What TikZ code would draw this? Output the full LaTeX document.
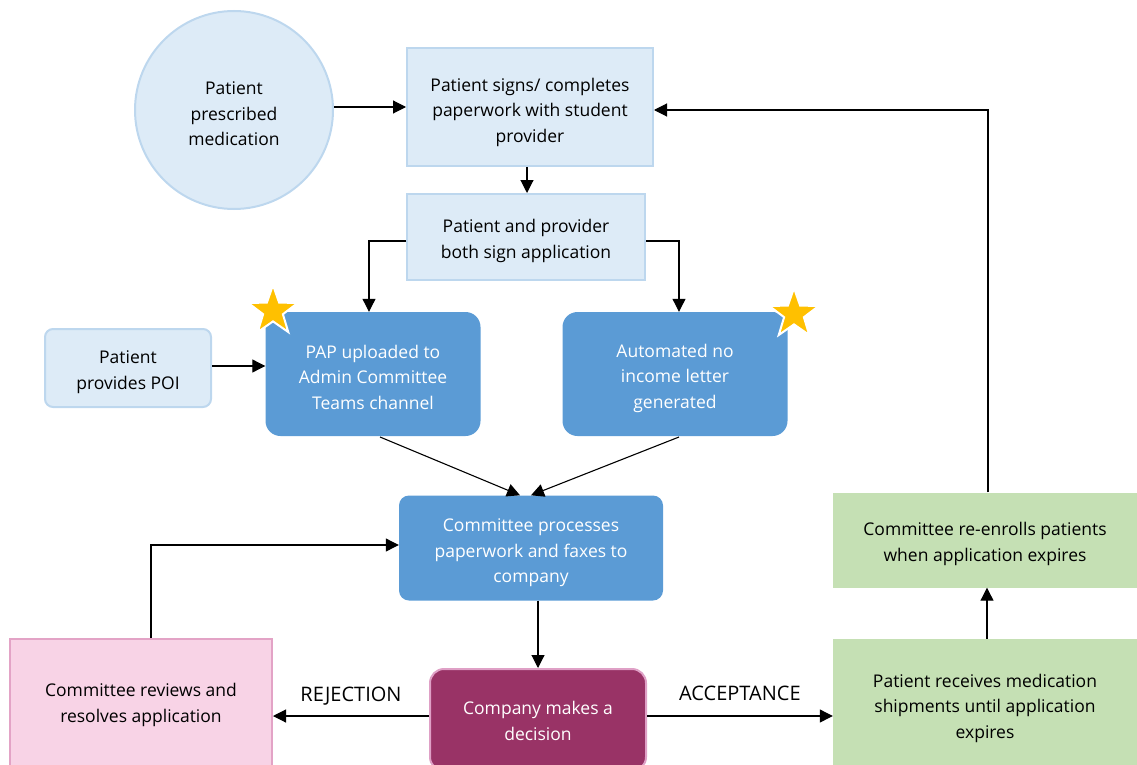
\documentclass[tikz,border=0pt]{standalone}
\usepackage{fontspec}
\setmainfont{Open Sans}
\usetikzlibrary{arrows.meta,shapes.geometric}
\definecolor{lbfill}{HTML}{DDEBF7}
\definecolor{lbdraw}{HTML}{BDD7EE}
\definecolor{bluebox}{HTML}{5B9BD5}
\definecolor{purplebox}{HTML}{993366}
\definecolor{purpledraw}{HTML}{DFA0C6}
\definecolor{pinkfill}{HTML}{F8D3E6}
\definecolor{pinkdraw}{HTML}{E3A3C6}
\definecolor{greenfill}{HTML}{C5E0B4}
\definecolor{stargold}{HTML}{FFC000}
\tikzset{
  txt/.style={align=center, font=\fontsize{17.5}{25.5}\selectfont, inner sep=0pt, yshift=-4pt},
  txtw/.style={txt, text=white},
  base/.style={inner sep=0pt},
  lightbox/.style={base, fill=lbfill, draw=lbdraw, line width=2pt},
  bluerounded/.style={base, fill=bluebox, rounded corners=15pt},
  conn/.style={line width=1.1pt, -{Triangle[length=13pt,width=13pt]}},
  lbl/.style={font=\fontsize{20}{22}\selectfont, inner sep=0pt},
  starshape/.style={star, star points=5, star point ratio=2.5, fill=stargold, draw=white, line width=2pt, minimum size=52pt, inner sep=0pt},
}
\begin{document}
\begin{tikzpicture}[x=1pt,y=-1pt]
\useasboundingbox (0,0) rectangle (1137,765);
\clip (0,0) rectangle (1137,765);
% nodes
\node[lightbox, circle, minimum size=198pt, label={[txt]center:Patient\\prescribed\\medication}] (pres) at (234,110) {};
\node[lightbox, minimum width=246pt, minimum height=118pt, label={[txt, yshift=-1pt]center:Patient signs/ completes\\paperwork with student\\provider}] (signs) at (530,107) {};
\node[lightbox, minimum width=238pt, minimum height=86pt, label={[txt]center:Patient and provider\\both sign application}] (both) at (526,237) {};
\node[lightbox, rounded corners=8pt, minimum width=166pt, minimum height=78pt, label={[txt]center:Patient\\provides POI}] (poi) at (128,368) {};
\node[bluerounded, minimum width=215pt, minimum height=124pt, label={[txtw, yshift=1pt]center:PAP uploaded to\\Admin Committee\\Teams channel}] (pap) at (373,374) {};
\node[bluerounded, minimum width=225pt, minimum height=124pt, label={[txtw]center:Automated no\\income letter\\generated}] (auto) at (675,374) {};
\node[starshape] (star1) at (273,311) {};
\node[starshape] (star2) at (794,314) {};
\node[bluerounded, rounded corners=10pt, minimum width=264pt, minimum height=105pt, label={[txtw, yshift=-1pt]center:Committee processes\\paperwork and faxes to\\company}] (proc) at (531,548) {};
\node[base, fill=purplebox, draw=purpledraw, line width=2pt, rounded corners=14pt, minimum width=216pt, minimum height=102pt, label={[txtw, yshift=3pt]center:Company makes a\\decision}] (comp) at (538,720) {};
\node[base, fill=pinkfill, draw=pinkdraw, line width=2pt, minimum width=262pt, minimum height=128pt, label={[txt, yshift=2pt]center:Committee reviews and\\resolves application}] (rev) at (141,703) {};
\node[base, fill=greenfill, minimum width=304pt, minimum height=134pt, label={[txt, yshift=2pt]center:Patient receives medication\\shipments until application\\expires}] (recv) at (985,706) {};
\node[base, fill=greenfill, minimum width=304pt, minimum height=95pt, label={[txt]center:Committee re-enrolls patients\\when application expires}] (reen) at (985,540) {};
% connectors
\draw[conn] (pres.east |- 0,107) -- (signs.west |- 0,107);
\draw[conn] (signs.south -| 527,0) -- (both.north -| 527,0);
\draw[conn] (both.west |- 0,241) -| (pap.north -| 369,0);
\draw[conn] (both.east |- 0,241) -| (auto.north -| 679,0);
\draw[conn] (poi.east |- 0,366) -- (pap.west |- 0,366);
\coordinate (pb) at (380,437);
\coordinate (ab) at (679,437);
\draw[conn] (pb) -- (proc.north -| 520,0);
\draw[conn] (ab) -- (proc.north -| 531,0);
\draw[conn] (proc.south -| 538,0) -- (comp.north);
\draw[conn] (comp.west |- 0,716) -- node[lbl, above=10pt] {REJECTION} (rev.east |- 0,716);
\draw[conn] (comp.east |- 0,716) -- node[lbl, above=15pt] {ACCEPTANCE} (recv.west |- 0,716);
\draw[conn] (rev.north -| 151,0) |- (proc.west |- 0,545);
\draw[conn] (recv.north -| 987,0) -- (reen.south -| 987,0);
\draw[conn] (reen.north -| 988,0) |- (signs.east |- 0,110);
\end{tikzpicture}
\end{document}
